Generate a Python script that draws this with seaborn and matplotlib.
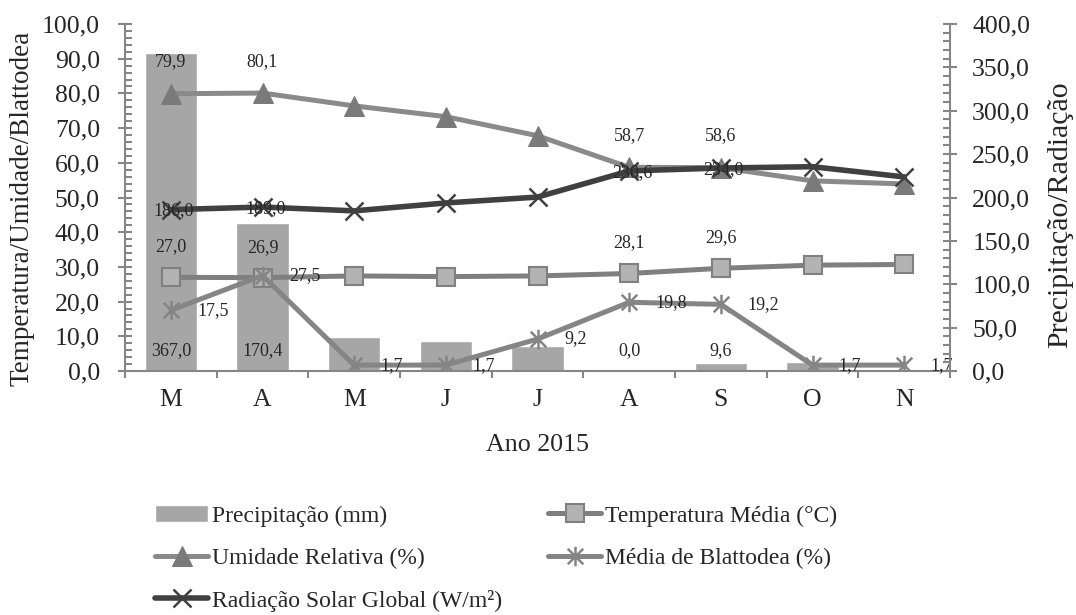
import numpy as np
import pandas as pd
import matplotlib
matplotlib.use("Agg")
import matplotlib.pyplot as plt
from matplotlib.path import Path
from matplotlib.ticker import MultipleLocator, FuncFormatter, FixedLocator
import seaborn as sns

# Monthly series, March to November 2015
months = ["Mar", "Abr", "Mai", "Jun", "Jul", "Ago", "Set", "Out", "Nov"]
month_labels = ["M", "A", "M", "J", "J", "A", "S", "O", "N"]
precipitacao = [367.0, 170.4, 38.8, 34.2, 29.2, 0.0, 9.6, 10.0, 0.0]
temperatura = [27.0, 26.9, 27.4, 27.2, 27.4, 28.1, 29.6, 30.5, 30.7]
umidade = [79.9, 80.1, 76.4, 73.3, 67.8, 58.7, 58.6, 54.8, 53.9]
blattodea = [17.5, 27.5, 1.7, 1.7, 9.2, 19.8, 19.2, 1.7, 1.7]
radiacao = [186.0, 189.0, 184.6, 193.7, 200.5, 230.6, 234.0, 235.5, 223.7]

# indices of points that carry a value label
lab_precip = [0, 1, 5, 6]
lab_temp = [0, 1, 5, 6]
lab_umid = [0, 1, 5, 6]
lab_rad = [0, 1, 5, 6]
lab_blatt = list(range(9))

sns.set_style("white")
plt.rcParams["font.family"] = ["Liberation Serif", "DejaVu Serif"]

W, H = 1076, 615
fig = plt.figure(figsize=(W / 100, H / 100), dpi=100)
rect = [125 / W, 1 - 371 / H, 825 / W, 347 / H]

AXC = "#868686"
c_bar = "#a6a6a6"
c_temp = "#7f7f7f"
c_umid = "#8a8a8a"
c_blatt = "#858585"
c_rad = "#404040"

x = np.arange(len(months))
df = pd.DataFrame({"mes": months, "x": x, "prec": precipitacao, "temp": temperatura,
                   "umid": umidade, "blatt": blattodea, "rad": radiacao})

# bars (right-hand scale)
ax_bar = fig.add_axes(rect)
sns.barplot(data=df, x="mes", y="prec", color=c_bar, width=0.57, saturation=1,
            ax=ax_bar, label="Precipitação (mm)", zorder=1)
ax_bar.set_ylim(0, 400)
ax_bar.set_xlim(-0.5, 8.5)

# left-hand scale lines
ax_l = fig.add_axes(rect, sharex=ax_bar)
ax_l.patch.set_alpha(0)
# right-hand scale line for radiation
ax_r = fig.add_axes(rect, sharex=ax_bar)
ax_r.patch.set_alpha(0)
ax_r.set_ylim(0, 400)
ax_l.set_ylim(0, 100)

star = Path([(0, -1), (0, 1), (-0.8, -0.8), (0.8, 0.8), (-0.8, 0.8), (0.8, -0.8)],
            [Path.MOVETO, Path.LINETO, Path.MOVETO, Path.LINETO, Path.MOVETO, Path.LINETO])

lw = 3.6
sns.lineplot(data=df, x="x", y="temp", ax=ax_l, color=c_temp, lw=lw, marker="s",
             markersize=13, markerfacecolor="#b3b3b3", markeredgecolor="#808080",
             markeredgewidth=1.5, label="Temperatura Média (°C)", zorder=3)
sns.lineplot(data=df, x="x", y="umid", ax=ax_l, color=c_umid, lw=lw, marker="^",
             markersize=15, markerfacecolor="#7a7a7a", markeredgecolor="#7a7a7a",
             label="Umidade Relativa (%)", zorder=3)
sns.lineplot(data=df, x="x", y="blatt", ax=ax_l, color=c_blatt, lw=lw, marker=star,
             markersize=14, markeredgecolor="#858585", markeredgewidth=1.8,
             label="Média de Blattodea (%)", zorder=4)
sns.lineplot(data=df, x="x", y="rad", ax=ax_r, color=c_rad, lw=4.0, marker="x",
             markersize=13, markeredgewidth=1.8, markeredgecolor="#404040",
             label="Radiação Solar Global (W/m²)", zorder=5)

for a in (ax_bar, ax_l, ax_r):
    a.set_xlabel("")
    a.set_ylabel("")
    if a.get_legend() is not None:
        a.get_legend().remove()
    for s in a.spines.values():
        s.set_visible(False)
    a.tick_params(axis="both", which="both", left=False, right=False, bottom=False,
                  top=False, labelleft=False, labelright=False, labelbottom=False)

comma = FuncFormatter(lambda v, p: f"{v:.1f}".replace(".", ","))
fs_tick = 18.5

# left axis
ax_l.spines["left"].set_visible(True)
ax_l.spines["left"].set_color(AXC)
ax_l.spines["left"].set_linewidth(1.5)
ax_l.yaxis.set_major_locator(MultipleLocator(10))
ax_l.yaxis.set_minor_locator(MultipleLocator(2))
ax_l.yaxis.set_major_formatter(comma)
ax_l.yaxis.set_ticks_position("left")
ax_l.tick_params(axis="y", which="major", left=True, labelleft=True, direction="inout",
                 length=10, width=1.5, color=AXC, labelsize=fs_tick, pad=13)
ax_l.tick_params(axis="y", which="minor", left=True, direction="in", length=5,
                 width=1.5, color=AXC)

# right axis
ax_r.spines["right"].set_visible(True)
ax_r.spines["right"].set_color(AXC)
ax_r.spines["right"].set_linewidth(1.5)
ax_r.yaxis.set_major_locator(MultipleLocator(50))
ax_r.yaxis.set_minor_locator(MultipleLocator(10))
ax_r.yaxis.set_major_formatter(comma)
ax_r.yaxis.set_ticks_position("right")
ax_r.tick_params(axis="y", which="major", right=True, labelright=True, direction="inout",
                 length=10, width=1.5, color=AXC, labelsize=fs_tick, pad=11)
ax_r.tick_params(axis="y", which="minor", right=True, direction="in", length=5,
                 width=1.5, color=AXC)

# bottom axis: category labels at centres, ticks between categories
ax_bar.spines["bottom"].set_visible(True)
ax_bar.spines["bottom"].set_color(AXC)
ax_bar.spines["bottom"].set_linewidth(1.5)
ax_bar.xaxis.set_major_locator(FixedLocator(x))
ax_bar.set_xticklabels(month_labels)
ax_bar.xaxis.set_minor_locator(FixedLocator(np.arange(-0.5, 9, 1)))
ax_bar.tick_params(axis="x", which="major", bottom=True, labelbottom=True, length=0,
                   labelsize=fs_tick, pad=13)
ax_bar.tick_params(axis="x", which="minor", bottom=True, direction="out", length=5,
                   width=1.5, color=AXC)

# value labels
fs_lab = 13
def put(ax, xi, yi, txt, dx, dy, ha="center"):
    ax.annotate(txt, (xi, yi), xytext=(dx, dy), textcoords="offset points",
                ha=ha, va="center", fontsize=fs_lab, zorder=10)

fmt = lambda v: f"{v:.1f}".replace(".", ",")
for i in lab_precip:
    put(ax_r, x[i], 0, fmt(precipitacao[i]), 0, 15)
for i in lab_temp:
    put(ax_l, x[i], temperatura[i], fmt(temperatura[i]), 0, 22)
for i in lab_umid:
    put(ax_l, x[i], umidade[i], fmt(umidade[i]), 0, 23)
for i in lab_rad:
    put(ax_r, x[i], radiacao[i], fmt(radiacao[i]), 2, -1)
for i in lab_blatt:
    put(ax_l, x[i], blattodea[i], fmt(blattodea[i]), 19, 0, ha="left")

# axis titles
fig.text(22 / W, 1 - 208 / H, "Temperatura/Umidade/Blattodea", rotation=90,
         ha="center", va="center", fontsize=19.5)
fig.text(1060 / W, 1 - 215 / H, "Precipitação/Radiação", rotation=90,
         ha="center", va="center", fontsize=21.5)
fig.text((125 + 825 / 2) / W, 1 - 445 / H, "Ano 2015", ha="center", va="center",
         fontsize=18.7)

# legend below the plot, two columns
hb, lb = ax_bar.get_legend_handles_labels()
hl, ll = ax_l.get_legend_handles_labels()
hr, lr = ax_r.get_legend_handles_labels()
handles = {l: h for h, l in zip(hb + hl + hr, lb + ll + lr)}
col1 = ["Precipitação (mm)", "Umidade Relativa (%)", "Radiação Solar Global (W/m²)"]
col2 = ["Temperatura Média (°C)", "Média de Blattodea (%)"]
fs_leg = 17
leg_kw = dict(loc="upper left", frameon=False, fontsize=fs_leg, handlelength=53 / (fs_leg * 100 / 72),
              handletextpad=0.15, labelspacing=0.88, borderpad=0, borderaxespad=0)
fig.legend([handles[k] for k in col1], col1, bbox_to_anchor=(155 / W, 1 - 505 / H), **leg_kw)
fig.legend([handles[k] for k in col2], col2, bbox_to_anchor=(548 / W, 1 - 505 / H), **leg_kw)

fig.savefig("out.png", dpi=100)
